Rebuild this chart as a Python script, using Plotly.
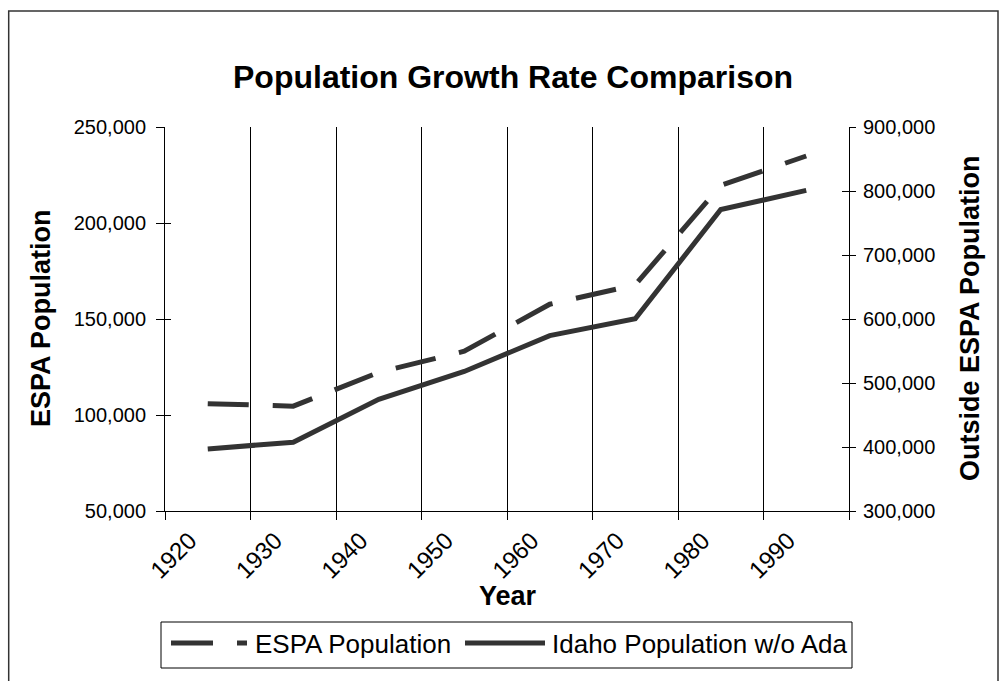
import plotly.graph_objects as go

# Census decades (category axis)
years = ["1920", "1930", "1940", "1950", "1960", "1970", "1980", "1990"]
# ESPA population (left axis)
espa_pop = [105900, 104600, 122200, 133200, 157700, 167800, 219600, 234900]
# Idaho population excluding Ada County (right axis)
idaho_wo_ada = [397000, 407500, 474500, 518000, 574000, 600400, 771000, 800900]

left_ticks = [50000, 100000, 150000, 200000, 250000]
right_ticks = [300000, 400000, 500000, 600000, 700000, 800000, 900000]

W, H = 1006, 681
ML, MR, MT, MB = 165, 157, 127, 170
PW, PH = W - ML - MR, H - MT - MB

def px(x):
    return (x - ML) / PW

def py(y):
    return (H - MB - y) / PH

FONT = "Liberation Sans, Arial, sans-serif"
INK = "#333333"

fig = go.Figure()
fig.add_trace(go.Scatter(
    x=years, y=espa_pop, name="ESPA Population", mode="lines",
    line=dict(color=INK, width=5, dash="41px,24px"), yaxis="y",
))
fig.add_trace(go.Scatter(
    x=years, y=idaho_wo_ada, name="Idaho Population w/o Ada", mode="lines",
    line=dict(color=INK, width=5), yaxis="y2",
))
# empty traces that carry the inner half of the cross tick marks
fig.add_trace(go.Scatter(x=[], y=[], yaxis="y3", showlegend=False, hoverinfo="skip"))
fig.add_trace(go.Scatter(x=[], y=[], yaxis="y4", showlegend=False, hoverinfo="skip"))

tickfont = dict(family=FONT, size=20, color="black")

fig.update_layout(
    width=W, height=H,
    margin=dict(l=ML, r=MR, t=MT, b=MB),
    paper_bgcolor="white", plot_bgcolor="white",
    showlegend=False,
    xaxis=dict(
        type="category", categoryorder="array", categoryarray=years,
        range=[-0.5, len(years) - 0.5],
        tickson="boundaries", showgrid=True, gridcolor="black", gridwidth=1,
        showline=True, linecolor="black", linewidth=1,
        ticks="outside", ticklen=8, tickcolor="black", tickwidth=1,
        tickangle=-45, tickfont=dict(family=FONT, size=24, color="black"),
        ticklabelshift=-18, ticklabelstandoff=5,
        zeroline=False,
    ),
    yaxis=dict(
        range=[left_ticks[0], left_ticks[-1]], tickvals=left_ticks,
        tickformat=",", showgrid=False, zeroline=False,
        showline=True, linecolor="black", linewidth=1,
        ticks="outside", ticklen=8, tickcolor="black", tickwidth=1,
        tickfont=tickfont, ticklabelstandoff=6,
    ),
    yaxis2=dict(
        overlaying="y", side="right",
        range=[right_ticks[0], right_ticks[-1]], tickvals=right_ticks,
        tickformat=",", showgrid=False, zeroline=False,
        showline=True, linecolor="black", linewidth=1,
        ticks="outside", ticklen=6, tickcolor="black", tickwidth=1,
        tickfont=tickfont, ticklabelstandoff=3,
    ),
    yaxis3=dict(
        overlaying="y", side="left",
        range=[left_ticks[0], left_ticks[-1]], tickvals=left_ticks,
        showticklabels=False, showgrid=False, zeroline=False, showline=False,
        ticks="inside", ticklen=6, tickcolor="black", tickwidth=1,
    ),
    yaxis4=dict(
        overlaying="y", side="right",
        range=[right_ticks[0], right_ticks[-1]], tickvals=right_ticks,
        showticklabels=False, showgrid=False, zeroline=False, showline=False,
        ticks="inside", ticklen=7, tickcolor="black", tickwidth=1,
    ),
)

annotations = [
    dict(text="<b>Population Growth Rate Comparison</b>", x=px(513), y=py(77),
         font=dict(family=FONT, size=32, color="black")),
    dict(text="<b>ESPA Population</b>", x=px(41), y=py(318), textangle=-90,
         font=dict(family=FONT, size=27, color="black")),
    dict(text="<b>Outside ESPA Population</b>", x=px(970), y=py(318), textangle=-90,
         font=dict(family=FONT, size=27, color="black")),
    dict(text="<b>Year</b>", x=px(508), y=py(596),
         font=dict(family=FONT, size=27, color="black")),
    dict(text="ESPA Population", x=px(253), y=py(644), xanchor="left",
         font=dict(family=FONT, size=26, color="black")),
    dict(text="Idaho Population w/o Ada", x=px(550), y=py(644), xanchor="left",
         font=dict(family=FONT, size=26, color="black")),
]
for a in annotations:
    a.setdefault("xanchor", "center")
    a.update(xref="paper", yref="paper", yanchor="middle", showarrow=False)
fig.update_layout(annotations=annotations)

shapes = [
    # outer chart frame
    dict(type="rect", x0=px(8.7), x1=px(998), y0=py(11), y1=py(700),
         line=dict(color=INK, width=1.5)),
    # legend box
    dict(type="rect", x0=px(161), x1=px(852), y0=py(622), y1=py(668),
         line=dict(color="black", width=1)),
    # legend samples
    dict(type="line", x0=px(171), x1=px(247), y0=py(643), y1=py(643),
         line=dict(color=INK, width=5, dash="42px,24px")),
    dict(type="line", x0=px(465), x1=px(545), y0=py(643), y1=py(643),
         line=dict(color=INK, width=5)),
]
for s in shapes:
    s.update(xref="paper", yref="paper")
fig.update_layout(shapes=shapes)

fig.write_html("out.html")
